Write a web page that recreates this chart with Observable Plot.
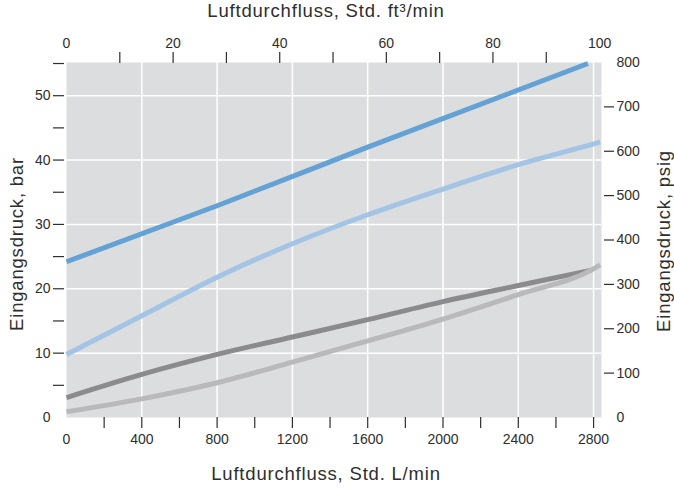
<!DOCTYPE html>
<html>
<head>
<meta charset="utf-8">
<script src="https://cdn.jsdelivr.net/npm/d3@7"></script>
<script src="https://cdn.jsdelivr.net/npm/@observablehq/plot@0.6"></script>
<style>
  body { margin: 0; background: #ffffff; }
  #chart svg { display: block; }
  #chart g[aria-label="text"] text { letter-spacing: 0.8px; }
</style>
</head>
<body>
<div id="chart"></div>
<script>
// Inlet pressure (bar) against air flow (standard L/min), four curves
const series = ["A", "B", "C", "D"];
const seriesColors = ["#64a1d5", "#a3c4e5", "#8b8b8e", "#b9b9bc"];

const flowA = [0, 800, 1600, 2770];
const pressA = [24.2, 32.9, 42.0, 55.0];

const flowB = [0, 400, 800, 1200, 1600, 2000, 2400, 2800, 2835];
const pressB = [9.8, 15.8, 21.8, 27.0, 31.5, 35.5, 39.3, 42.5, 42.8];

const flowC = [0, 400, 800, 1200, 1600, 2000, 2400, 2790];
const pressC = [3.1, 6.7, 9.8, 12.5, 15.2, 18.0, 20.5, 22.9];

const flowD = [0, 400, 800, 1200, 1600, 2000, 2400, 2800, 2835];
const pressD = [0.9, 2.9, 5.4, 8.6, 11.9, 15.3, 19.1, 23.1, 23.7];

// Axis ticks and labels
const flowTicks = [200, 400, 600, 800, 1000, 1200, 1400, 1600, 1800, 2000, 2200, 2400, 2600, 2800];
const flowLabels = [0, 400, 800, 1200, 1600, 2000, 2400, 2800];
const cfmTicks = [10, 20, 30, 40, 50, 60, 70, 80, 90];
const cfmLabels = [0, 20, 40, 60, 80, 100];
const barTicks = [5, 10, 15, 20, 25, 30, 35, 40, 45, 50, 55];
const barLabels = [0, 10, 20, 30, 40, 50];
const psigTicks = [100, 200, 300, 400, 500, 600, 700];
const psigLabels = [0, 100, 200, 300, 400, 500, 600, 700, 800];

const titleTop = "Luftdurchfluss, Std. ft³/min";
const titleBottom = "Luftdurchfluss, Std. L/min";
const titleLeft = "Eingangsdruck, bar";
const titleRight = "Eingangsdruck, psig";

// Unit conversions for the secondary axes
const LPM_PER_CFM = 28.3168;
const PSI_PER_BAR = 14.5038;

const rows = [];
[[flowA, pressA], [flowB, pressB], [flowC, pressC], [flowD, pressD]].forEach(([xs, ys], i) => {
  xs.forEach((x, j) => rows.push({series: series[i], flow: x, bar: ys[j]}));
});

const ink = "#2e2e2e";
const bg = "#dcdddf";
const noText = () => "";
const titleSize = 18.5;

const chart = Plot.plot({
  width: 674,
  height: 490,
  marginLeft: 66,
  marginRight: 73,
  marginTop: 62,
  marginBottom: 73,
  style: {fontFamily: "'Liberation Sans', Arial, sans-serif", fontSize: "14px", color: ink, background: "#ffffff"},
  x: {domain: [0, 2842]},
  y: {domain: [0, 800 / PSI_PER_BAR]},
  color: {domain: series, range: seriesColors},
  marks: [
    Plot.frame({fill: bg, stroke: null}),
    Plot.gridX({ticks: flowLabels.filter(d => d > 0), stroke: "#ffffff", strokeOpacity: 1, strokeWidth: 1.5}),
    Plot.gridY({ticks: barLabels.filter(d => d > 0), stroke: "#ffffff", strokeOpacity: 1, strokeWidth: 1.5}),
    Plot.line(rows, {x: "flow", y: "bar", z: "series", stroke: "series", strokeWidth: 5, curve: "monotone-x", strokeLinecap: "butt"}),

    // bottom axis: L/min
    Plot.axisX({anchor: "bottom", ticks: flowTicks, tickSize: 11, tickFormat: noText, stroke: ink, strokeWidth: 1.2, label: null}),
    Plot.axisX({anchor: "bottom", ticks: flowLabels, tickSize: 0, tickPadding: 17, tickFormat: d => String(d), fill: ink, label: null}),

    // top axis: ft³/min
    Plot.axisX({anchor: "top", ticks: cfmTicks.map(d => d * LPM_PER_CFM), tickSize: 11, tickFormat: noText, stroke: ink, strokeWidth: 1.2, label: null}),
    Plot.axisX({anchor: "top", ticks: cfmLabels.map(d => d * LPM_PER_CFM), tickSize: 0, tickPadding: 15, tickFormat: d => String(Math.round(d / LPM_PER_CFM)), fill: ink, label: null}),

    // left axis: bar
    Plot.axisY({anchor: "left", ticks: barTicks, tickSize: 11, dx: -2, tickFormat: noText, stroke: ink, strokeWidth: 1.2, label: null}),
    Plot.axisY({anchor: "left", ticks: barLabels, tickSize: 0, tickPadding: 16, tickFormat: d => String(d), fill: ink, label: null}),

    // right axis: psig
    Plot.axisY({anchor: "right", ticks: psigTicks.map(d => d / PSI_PER_BAR), tickSize: 10, dx: 2, tickFormat: noText, stroke: ink, strokeWidth: 1.2, label: null}),
    Plot.axisY({anchor: "right", ticks: psigLabels.map(d => d / PSI_PER_BAR), tickSize: 0, tickPadding: 15, tickFormat: d => String(Math.round(d * PSI_PER_BAR)), fill: ink, label: null}),

    // axis titles
    Plot.text([titleTop], {frameAnchor: "top", dx: -8, dy: -51.5, fontSize: titleSize, fill: ink, lineAnchor: "middle", textAnchor: "middle"}),
    Plot.text([titleBottom], {frameAnchor: "bottom", dx: -8, dy: 56.5, fontSize: titleSize, fill: ink, lineAnchor: "middle", textAnchor: "middle"}),
    Plot.text([titleLeft], {frameAnchor: "left", dx: -49, dy: 4, rotate: -90, fontSize: titleSize, fill: ink, lineAnchor: "middle", textAnchor: "middle"}),
    Plot.text([titleRight], {frameAnchor: "right", dx: 63, dy: 1, rotate: -90, fontSize: titleSize, fill: ink, lineAnchor: "middle", textAnchor: "middle"})
  ]
});

document.getElementById("chart").append(chart);
</script>
</body>
</html>
